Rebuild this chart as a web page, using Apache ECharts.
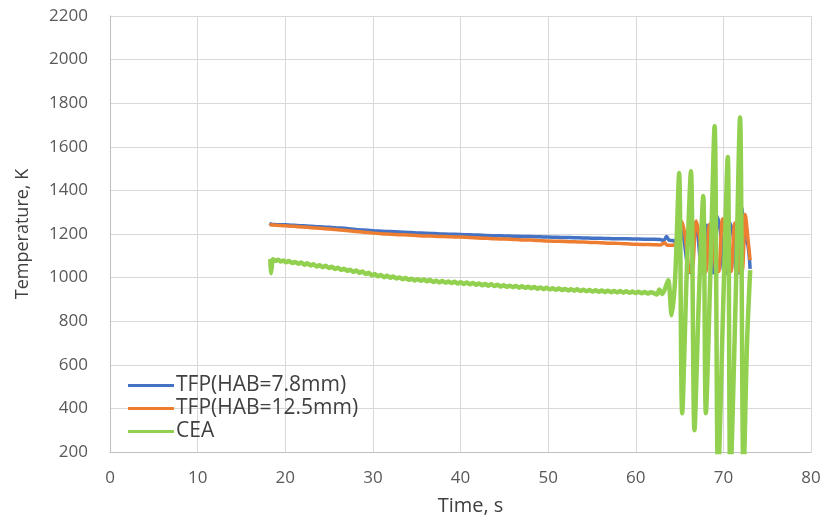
<!DOCTYPE html>
<html>
<head>
<meta charset="utf-8">
<script src="https://cdn.jsdelivr.net/npm/echarts@6/dist/echarts.min.js"></script>
<style>
html,body{margin:0;padding:0;background:#fff;}
#chart{width:826px;height:521px;}
</style>
</head>
<body>
<div id="chart"></div>
<script>
var xTicks = [0, 10, 20, 30, 40, 50, 60, 70, 80];
var yTicks = [200, 400, 600, 800, 1000, 1200, 1400, 1600, 1800, 2000, 2200];
var seriesNames = ['TFP(HAB=7.8mm)', 'TFP(HAB=12.5mm)', 'CEA'];

var tfp78 = [
[18.2,1250],[18.5,1244],[19,1243],[20,1242],[21,1240],[22,1238],[23,1235],[24,1233],[25,1231],[26,1228],
[27,1225],[28,1221],[29,1218],[30,1215],[31,1213],[32,1211],[33,1209],[34,1207],[35,1205],[36,1204],
[37,1202],[38,1200],[39,1199],[40,1198],[41,1196],[42,1195],[43,1193],[44,1192],[45,1191],[46,1190],
[47,1189],[48,1188],[49,1187],[50,1186],[51,1185],[52,1184],[53,1183],[54,1182],[55,1181],[56,1180],
[57,1179],[58,1178],[59,1178],[60,1177],[61,1176],[62,1176],[62.8,1175],[63.2,1170],[63.5,1188],[63.8,1172],
[64.2,1170],[64.5,1166],[65.0,1250],[65.4,1200],[66.0,1030],[66.3,1022],[66.7,1250],[67.1,1190],[67.5,1025],
[67.8,1022],[68.1,1240],[68.4,1200],[68.8,1025],[69.0,1022],[69.3,1280],[69.7,1200],[70.1,1022],[70.4,1022],
[70.7,1255],[71.1,1200],[71.5,1022],[71.8,1022],[72.1,1320],[72.5,1170],[72.8,1150],[73.05,1040]
];

var tfp125 = [
[18.2,1242],[19,1240],[20,1238],[21,1235],[22,1232],[23,1229],[24,1226],[25,1223],[26,1220],[27,1216],
[28,1212],[29,1208],[30,1204],[31,1201],[32,1199],[33,1197],[34,1195],[35,1193],[36,1191],[37,1190],
[38,1188],[39,1187],[40,1186],[41,1184],[42,1182],[43,1180],[44,1178],[45,1177],[46,1175],[47,1173],
[48,1172],[49,1170],[50,1168],[51,1167],[52,1166],[53,1164],[54,1163],[55,1161],[56,1160],[57,1158],
[58,1157],[59,1155],[60,1153],[61,1152],[62,1151],[62.8,1150],[63.3,1160],[63.6,1148],[64.2,1148],[64.6,1160],
[65.2,1260],[65.6,1200],[66.1,1030],[66.4,1025],[66.9,1260],[67.3,1180],[67.7,1025],[68.0,1025],[68.4,1245],
[68.9,1150],[69.2,1025],[69.5,1030],[69.9,1270],[70.3,1160],[70.6,1025],[70.9,1030],[71.3,1250],[71.7,1150],
[71.9,1025],[72.2,1040],[72.5,1290],[72.8,1180],[73.05,1080]
];

var cea = [
[18.3,1085],[18.35,1020],[18.45,1045],[18.6,1084],[18.9,1077],[19.2,1082],[19.5,1074],[19.8,1079],[20.1,1070],[20.4,1076],
[20.8,1067],[21.1,1072],[21.5,1064],[21.8,1069],[22.2,1059],[22.5,1066],[22.9,1056],[23.2,1061],[23.6,1051],[23.9,1057],
[24.3,1048],[24.6,1054],[25.0,1044],[25.3,1050],[25.7,1040],[26.0,1045],[26.4,1035],[26.7,1041],[27.1,1031],[27.4,1036],
[27.8,1026],[28.1,1032],[28.5,1022],[28.8,1028],[29.2,1016],[29.5,1022],[29.9,1010],[30.2,1016],[30.6,1006],[30.9,1012],
[31.3,1002],[31.6,1008],[32.0,999],[32.3,1005],[32.7,996],[33.0,1001],[33.4,992],[33.7,998],[34.1,990],[34.4,995],
[34.8,987],[35.1,993],[35.5,985],[35.8,991],[36.2,983],[36.5,989],[36.9,980],[37.2,986],[37.6,978],[37.9,984],
[38.3,977],[38.6,982],[39.0,975],[39.3,981],[39.7,973],[40.0,979],[40.4,971],[40.7,977],[41.1,969],[41.4,975],
[41.8,967],[42.1,973],[42.5,965],[42.8,971],[43.2,963],[43.5,969],[43.9,961],[44.2,967],[44.6,959],[44.9,965],
[45.3,958],[45.6,963],[46.0,956],[46.3,962],[46.7,954],[47.0,960],[47.4,953],[47.7,958],[48.1,951],[48.4,957],
[48.8,949],[49.1,955],[49.5,947],[49.8,953],[50.2,946],[50.5,951],[50.9,944],[51.2,950],[51.6,943],[51.9,948],
[52.3,941],[52.6,947],[53.0,940],[53.3,946],[53.7,939],[54.0,944],[54.4,938],[54.7,943],[55.1,936],[55.4,942],
[55.8,935],[56.1,941],[56.5,934],[56.8,940],[57.2,933],[57.5,939],[57.9,932],[58.2,938],[58.6,931],[58.9,937],
[59.3,930],[59.6,936],[60.0,929],[60.3,935],[60.7,928],[61.0,934],[61.4,927],[61.7,933],[62.0,930],[62.4,922],
[62.7,945],[63.0,925],[63.3,945],[63.7,988],[64.1,827],[64.5,1000],[64.95,1480],[65.3,378],
[65.8,1000],[66.3,1488],[66.7,300],[67.2,900],[67.7,1374],[68.0,378],[68.5,1000],[69.0,1694],[69.4,80],[70.0,900],
[70.5,1553],[70.8,80],[71.4,900],[71.9,1734],[72.3,80],[72.7,700],[73.06,1034]
];

var chart = echarts.init(document.getElementById('chart'));
var font = '"Open Sans", sans-serif';
function mkSeries(name, data, color, width) {
  return {
    name: name, type: 'line', data: data, showSymbol: false, symbol: 'none',
    smooth: 0.3, clip: true,
    lineStyle: {color: color, width: width}, itemStyle: {color: color},
    animation: false
  };
}
chart.setOption({
  animation: false,
  grid: {left: 110, right: 15, top: 16, bottom: 69, containLabel: false},
  legend: {
    orient: 'vertical', left: 110, bottom: 69,
    padding: [9, 6, 10, 18],
    itemGap: 2, itemWidth: 46, itemHeight: 3, icon: 'rect',
    data: seriesNames,
    textStyle: {fontFamily: font, fontSize: 21, color: '#404040', padding: [0,0,0,-3]}
  },
  xAxis: {
    type: 'value', min: xTicks[0], max: xTicks[xTicks.length-1], interval: 10,
    name: 'Time, s', nameLocation: 'middle', nameGap: 44,
    nameTextStyle: {fontFamily: font, fontSize: 20, color: '#404040', padding: [0,0,0,20]},
    axisLine: {show: true, lineStyle: {color: '#bfbfbf', width: 1}},
    axisTick: {show: false},
    axisLabel: {fontFamily: font, fontSize: 17, color: '#595959', margin: 18},
    splitLine: {show: true, lineStyle: {color: '#d9d9d9', width: 1}}
  },
  yAxis: {
    type: 'value', min: yTicks[0], max: yTicks[yTicks.length-1], interval: 200,
    name: 'Temperature, K', nameLocation: 'middle', nameGap: 78, nameRotate: 90,
    nameTextStyle: {fontFamily: font, fontSize: 18, color: '#404040'},
    axisLine: {show: true, lineStyle: {color: '#bfbfbf', width: 1}},
    axisTick: {show: false},
    axisLabel: {fontFamily: font, fontSize: 17, color: '#595959', margin: 22,
      formatter: function (v) { return String(v); }},
    splitLine: {show: true, lineStyle: {color: '#d9d9d9', width: 1}}
  },
  series: [
    mkSeries(seriesNames[0], tfp78, '#4472C4', 3.5),
    mkSeries(seriesNames[1], tfp125, '#ED7D31', 3.5),
    mkSeries(seriesNames[2], cea, '#92D050', 4.5)
  ]
});
</script>
</body>
</html>
